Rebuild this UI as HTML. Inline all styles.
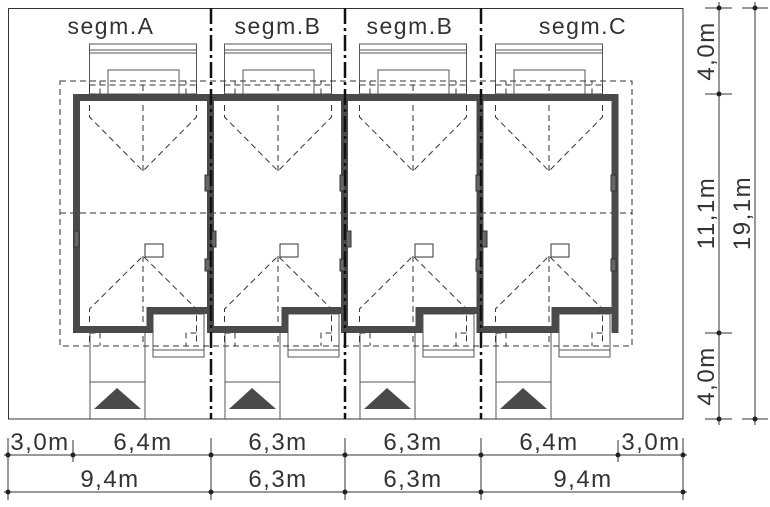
<!DOCTYPE html>
<html><head><meta charset="utf-8"><style>
html,body{margin:0;padding:0;background:#fff;width:770px;height:507px;overflow:hidden}
text{font-family:"Liberation Sans",sans-serif;fill:#333}
</style></head><body>
<svg width="770" height="507" viewBox="0 0 770 507" xmlns="http://www.w3.org/2000/svg">
<defs>
<g id="u">
  <g fill="none" stroke="#555" stroke-width="1">
    <rect x="-53.5" y="44" width="107" height="50"/>
    <line x1="-53.5" y1="50" x2="53.5" y2="50"/>
    <line x1="-53.5" y1="53" x2="53.5" y2="53"/>
    <rect x="-35" y="70" width="71" height="24"/>
    <rect x="10" y="314" width="51" height="43"/>
    <line x1="10" y1="350" x2="61" y2="350"/>
    <line x1="-53" y1="333" x2="-53" y2="419"/>
    <line x1="2" y1="333" x2="2" y2="419"/>
    <line x1="-53" y1="382" x2="2" y2="382"/>
    <rect x="2" y="244" width="18" height="13" stroke="#333"/>
  </g>
  <polygon points="-49,409 -26,388 -2,409" fill="#4a4a4a"/>
  <g fill="none" stroke="#333" stroke-width="1" stroke-dasharray="6,4">
    <line x1="-53.5" y1="85" x2="53.5" y2="85"/>
    <polyline points="-53.5,85 -53.5,117 0,171 53.5,117 53.5,85"/>
    <line x1="0" y1="85" x2="0" y2="171"/>
    <polyline points="-53.5,342 -53.5,309 0,256 53.5,309 53.5,342"/>
    <line x1="0" y1="256" x2="0" y2="342"/>
    <polyline points="-53.5,94 -43,94 -43,81"/>
    <polyline points="53.5,94 43,94 43,81"/>
    <polyline points="-53.5,333 -43,333 -43,346"/>
    <polyline points="53.5,333 43,333 43,346"/>
  </g>
</g>
</defs>

<rect x="8.5" y="8.5" width="674.5" height="410.5" fill="none" stroke="#333" stroke-width="1"/>

<use href="#u" x="143"/>
<use href="#u" x="278"/>
<use href="#u" x="413"/>
<use href="#u" x="549"/>

<g fill="none" stroke="#333" stroke-width="1" stroke-dasharray="6,4">
  <rect x="60" y="81" width="572" height="265"/>
  <line x1="60" y1="213" x2="632" y2="213"/>
</g>

<g fill="none" stroke="#4a4a4a" stroke-width="7" stroke-linejoin="miter" stroke-linecap="square">
  <path d="M76.5,329.5 V97.5 H615 V329.5"/>
  <line x1="210.5" y1="97.5" x2="210.5" y2="329.5"/>
  <line x1="344.5" y1="97.5" x2="344.5" y2="329.5"/>
  <line x1="480" y1="97.5" x2="480" y2="329.5"/>
  <path d="M76.5,329.5 H150 V310.5 H210.5"/>
  <path d="M210.5,329.5 H285 V310.5 H344.5"/>
  <path d="M344.5,329.5 H419 V310.5 H480"/>
  <path d="M480,329.5 H555 V310.5 H615"/>
</g>
<g fill="#666" stroke="#333" stroke-width="1">
  <rect x="74" y="231" width="5" height="16"/>
  <rect x="205" y="175" width="5" height="16"/><rect x="211" y="231" width="5" height="16"/><rect x="205" y="259" width="5" height="12"/>
  <rect x="340" y="175" width="5" height="16"/><rect x="346" y="231" width="5" height="16"/><rect x="340" y="259" width="5" height="12"/>
  <rect x="476" y="175" width="5" height="16"/><rect x="482" y="231" width="5" height="16"/><rect x="476" y="259" width="5" height="12"/>
  <rect x="611" y="175" width="5" height="16"/><rect x="611" y="259" width="5" height="12"/>
</g>

<g stroke="#111" stroke-width="2.5" stroke-dasharray="16,4,3,4">
  <line x1="211" y1="8" x2="211" y2="419"/>
  <line x1="345" y1="8" x2="345" y2="419"/>
  <line x1="481" y1="8" x2="481" y2="419"/>
</g>

<g font-size="23" text-anchor="middle" letter-spacing="1.5">
  <text x="111" y="34">segm.A</text>
  <text x="278" y="34">segm.B</text>
  <text x="410" y="34">segm.B</text>
  <text x="583" y="34">segm.C</text>
</g>

<g stroke="#333" stroke-width="1">
  <line x1="4" y1="455" x2="687" y2="455"/>
  <line x1="4" y1="492" x2="687" y2="492"/>
  <line x1="8" y1="438" x2="8" y2="500"/>
  <line x1="73" y1="440" x2="73" y2="462"/>
  <line x1="211" y1="438" x2="211" y2="500"/>
  <line x1="345" y1="438" x2="345" y2="500"/>
  <line x1="481" y1="438" x2="481" y2="500"/>
  <line x1="618" y1="440" x2="618" y2="462"/>
  <line x1="683" y1="438" x2="683" y2="500"/>
  <line x1="719" y1="2" x2="719" y2="425"/>
  <line x1="755" y1="2" x2="755" y2="425"/>
  <line x1="705" y1="8" x2="732" y2="8"/><line x1="705" y1="94" x2="732" y2="94"/>
  <line x1="705" y1="333" x2="732" y2="333"/><line x1="705" y1="419" x2="732" y2="419"/>
  <line x1="742" y1="8" x2="768" y2="8"/><line x1="742" y1="419" x2="768" y2="419"/>
</g>
<g fill="#222">
  <circle cx="8" cy="455" r="2.5"/><circle cx="73" cy="455" r="2.5"/><circle cx="211" cy="455" r="2.5"/>
  <circle cx="345" cy="455" r="2.5"/><circle cx="481" cy="455" r="2.5"/><circle cx="618" cy="455" r="2.5"/><circle cx="683" cy="455" r="2.5"/>
  <circle cx="8" cy="492" r="2.5"/><circle cx="211" cy="492" r="2.5"/><circle cx="345" cy="492" r="2.5"/><circle cx="481" cy="492" r="2.5"/><circle cx="683" cy="492" r="2.5"/>
  <circle cx="719" cy="8" r="2.5"/><circle cx="719" cy="94" r="2.5"/><circle cx="719" cy="333" r="2.5"/><circle cx="719" cy="419" r="2.5"/>
  <circle cx="755" cy="8" r="2.5"/><circle cx="755" cy="419" r="2.5"/>
</g>
<g font-size="24" text-anchor="middle" letter-spacing="1.5">
  <text x="40" y="450">3,0m</text>
  <text x="143" y="450">6,4m</text>
  <text x="278" y="450">6,3m</text>
  <text x="413" y="450">6,3m</text>
  <text x="549" y="450">6,4m</text>
  <text x="651" y="450">3,0m</text>
  <text x="110" y="487">9,4m</text>
  <text x="278" y="487">6,3m</text>
  <text x="413" y="487">6,3m</text>
  <text x="583" y="487">9,4m</text>
  <text transform="translate(714,51) rotate(-90)">4,0m</text>
  <text transform="translate(714,213) rotate(-90)">11,1m</text>
  <text transform="translate(714,376) rotate(-90)">4,0m</text>
  <text transform="translate(750,213) rotate(-90)">19,1m</text>
</g>
</svg>
</body></html>
